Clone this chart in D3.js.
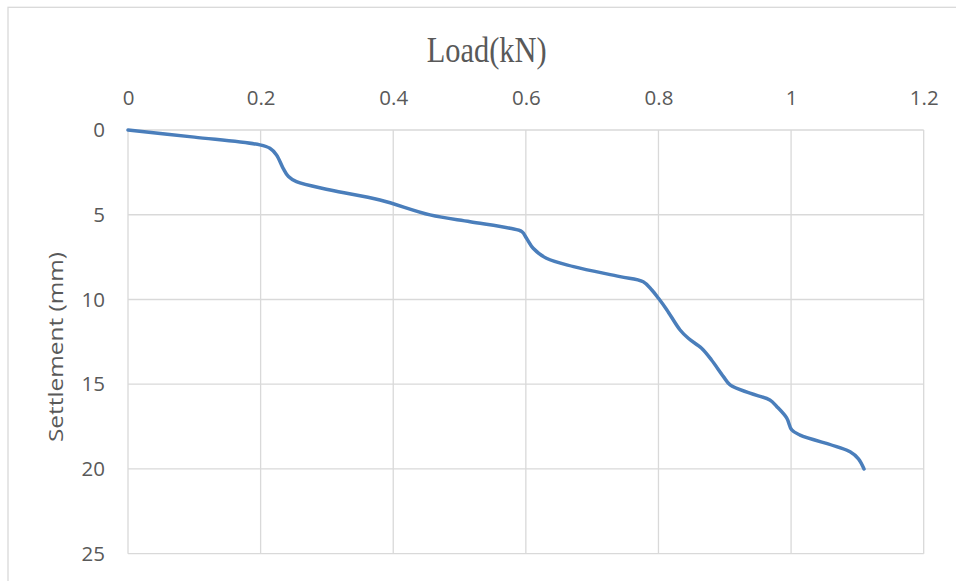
<!DOCTYPE html>
<html><head><meta charset="utf-8">
<script src="https://cdn.jsdelivr.net/npm/d3@7"></script>
<style>html,body{margin:0;padding:0;background:#fff;overflow:hidden}</style>
</head><body>
<svg id="chart" width="956" height="581"></svg>
<script>
const loads = [0, 0.10, 0.199, 0.214, 0.224, 0.234, 0.242, 0.254, 0.305, 0.38, 0.4555, 0.516, 0.576, 0.594, 0.601, 0.611, 0.631, 0.672, 0.742, 0.777, 0.790, 0.800, 0.8125, 0.8326, 0.845, 0.865, 0.880, 0.898, 0.908, 0.938, 0.968, 0.978, 0.9935, 1.001, 1.0136, 1.089, 1.1016, 1.110];
const settlements = [0, 0.42, 0.88, 1.08, 1.47, 2.26, 2.75, 3.05, 3.54, 4.13, 5.01, 5.41, 5.80, 6.00, 6.39, 6.98, 7.57, 8.06, 8.65, 8.95, 9.44, 9.93, 10.6, 11.8, 12.29, 12.88, 13.57, 14.55, 15.04, 15.53, 15.93, 16.3, 17.0, 17.7, 18.0, 18.98, 19.4, 20.0];
const xTicks = [0, 0.2, 0.4, 0.6, 0.8, 1, 1.2];
const yTicks = [0, 5, 10, 15, 20, 25];
const xTitle = "Load(kN)";
const yTitle = "Settlement (mm)";

const svg = d3.select("#chart");
const x = d3.scaleLinear().domain([0, 1.2]).range([128, 923.7]);
const y = d3.scaleLinear().domain([0, 25]).range([130, 553.7]);
const grid = "#d9d9d9", txt = "#595959";

// outer frame
svg.append("rect").attr("x", 8).attr("y", 7.3).attr("width", 1000).attr("height", 700)
  .attr("fill", "none").attr("stroke", grid).attr("stroke-width", 1.3);

// gridlines
svg.append("g").selectAll("line").data(xTicks).join("line")
  .attr("x1", d => x(d)).attr("x2", d => x(d)).attr("y1", y(0)).attr("y2", y(25))
  .attr("stroke", grid).attr("stroke-width", 1.3);
svg.append("g").selectAll("line").data(yTicks).join("line")
  .attr("x1", x(0)).attr("x2", x(1.2)).attr("y1", d => y(d)).attr("y2", d => y(d))
  .attr("stroke", grid).attr("stroke-width", 1.3);

// top axis
const xAxis = svg.append("g").attr("transform", `translate(0,${y(0)})`)
  .call(d3.axisTop(x).tickValues(xTicks).tickFormat(d3.format("")).tickSize(0).tickPadding(25));
xAxis.select(".domain").remove();
xAxis.selectAll("text").attr("fill", txt).style("font-family", "'Open Sans', sans-serif").style("font-size", "20.5px");

// left axis
const yAxis = svg.append("g").attr("transform", `translate(${x(0)},0)`)
  .call(d3.axisLeft(y).tickValues(yTicks).tickFormat(d3.format("")).tickSize(0).tickPadding(23));
yAxis.select(".domain").remove();
yAxis.selectAll("text").attr("fill", txt).style("font-family", "'Open Sans', sans-serif").style("font-size", "20.5px");

// titles
svg.append("text").attr("x", 426.7).attr("y", 61.7)
  .attr("textLength", 120).attr("lengthAdjust", "spacingAndGlyphs")
  .style("font-family", "'Liberation Serif', 'Times New Roman', serif").style("font-size", "35px")
  .attr("fill", txt).text(xTitle);

svg.append("text").attr("transform", "translate(63.3,442) rotate(-90)")
  .attr("textLength", 190).attr("lengthAdjust", "spacingAndGlyphs")
  .style("font-family", "'Open Sans', sans-serif").style("font-size", "20px")
  .attr("fill", txt).text(yTitle);

// data line
const pts = loads.map((l, i) => [l, settlements[i]]);
svg.append("path").datum(pts)
  .attr("fill", "none").attr("stroke", "#4a7ebb").attr("stroke-width", 3.5)
  .attr("stroke-linecap", "round").attr("stroke-linejoin", "round")
  .attr("d", d3.line().x(d => x(d[0])).y(d => y(d[1])).curve(d3.curveCatmullRom.alpha(0.5)));
</script>
</body></html>
